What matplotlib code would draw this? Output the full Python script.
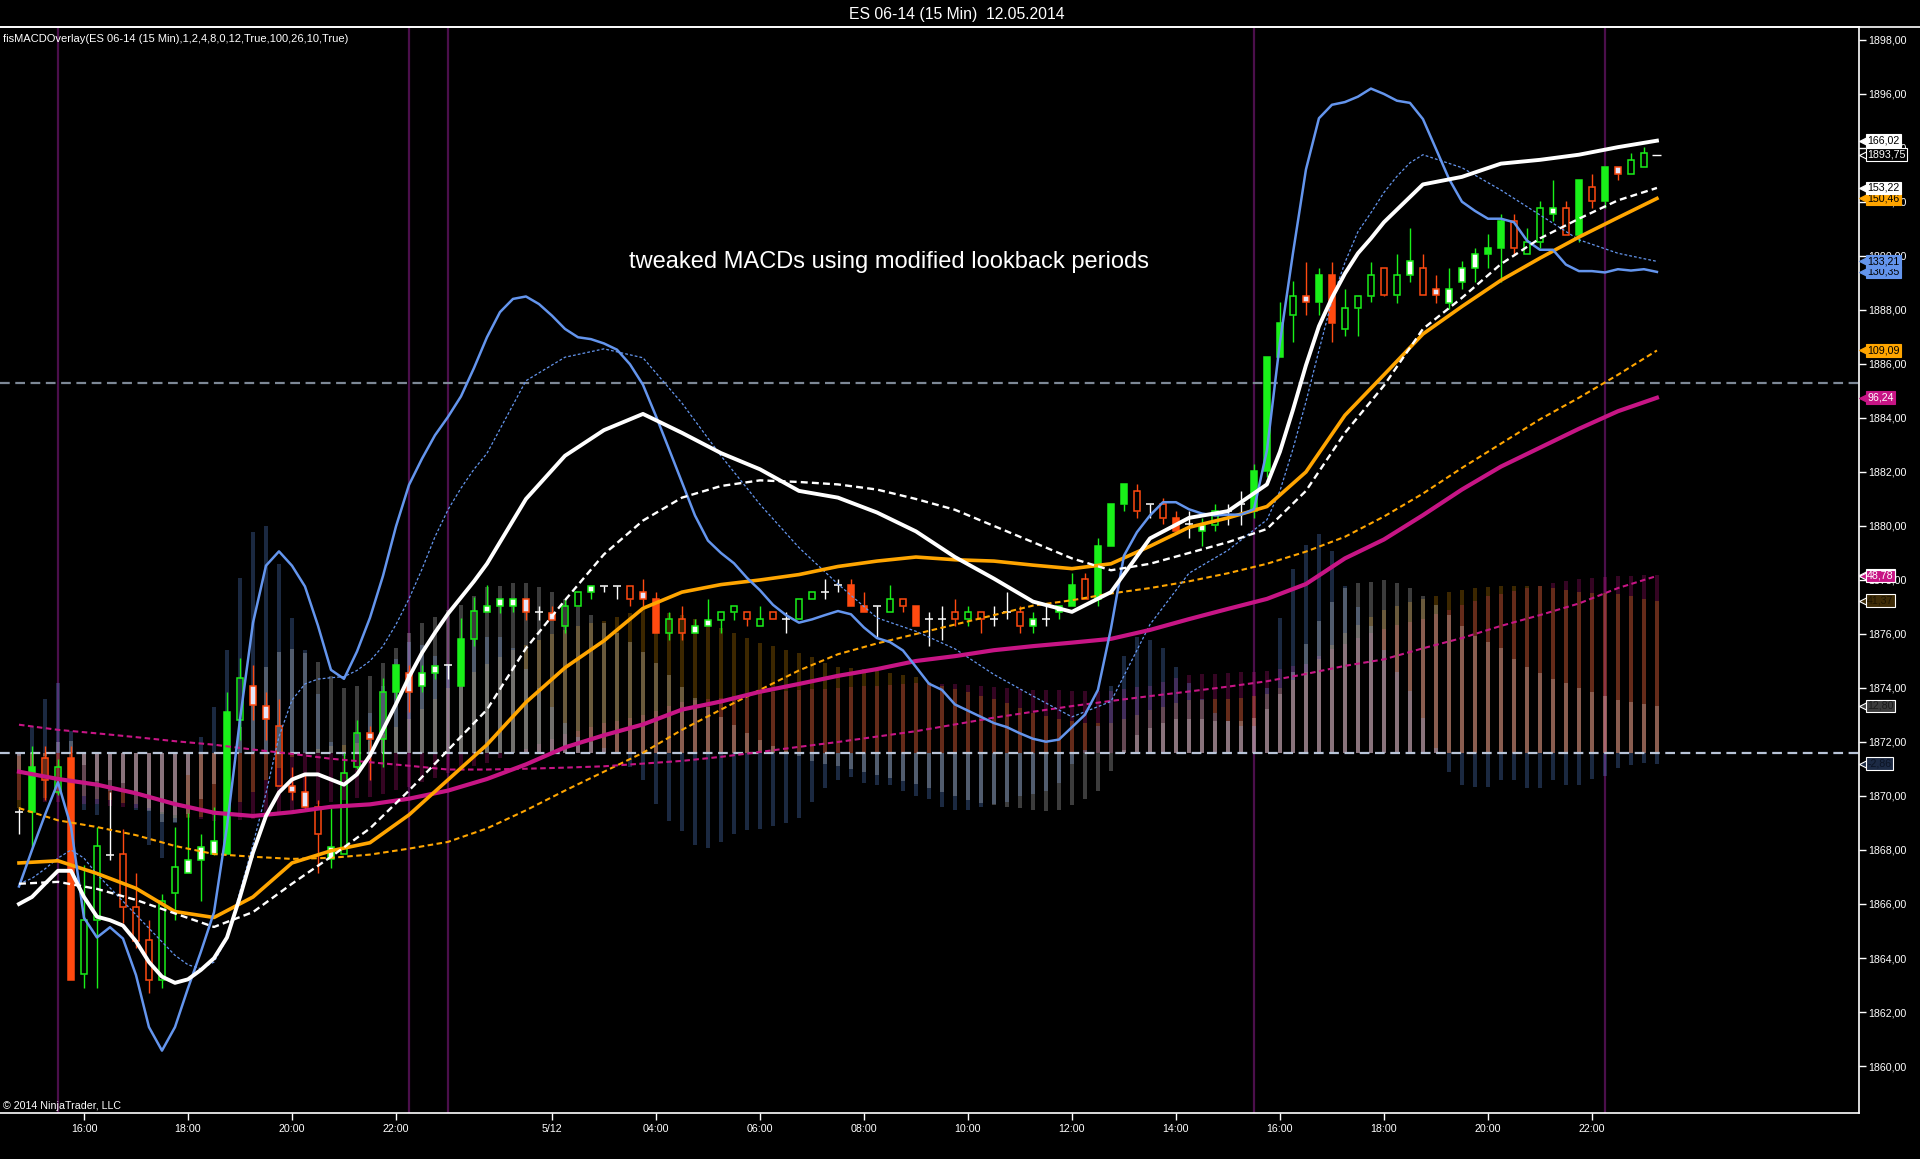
import matplotlib
matplotlib.use("Agg")
import matplotlib.pyplot as plt
import matplotlib.transforms as mtransforms
from matplotlib.lines import Line2D
from matplotlib.ticker import FuncFormatter
import numpy as np

plt.rcParams["font.family"] = ["Liberation Sans", "DejaVu Sans"]
plt.rcParams["lines.scale_dashes"] = False

# ==========================================================
# Data (bar index = one 15 min bar)
# ==========================================================

OPEN = [1869.4, 1869.39, 1871.39, 1870.13, 1871.39, 1863.41, 1865.40, 1867.81, 1867.85, 1865.88,
        1864.66, 1863.17, 1866.40, 1867.13, 1867.62, 1867.87, 1867.85, 1872.83, 1874.09, 1873.35,
        1872.60, 1870.36, 1870.13, 1869.59, 1867.66, 1867.85, 1871.09, 1872.35, 1872.10, 1873.84,
        1874.57, 1874.09, 1874.57, 1874.86, 1874.09, 1875.83, 1876.81, 1877.05, 1877.05, 1877.30,
        1876.81, 1876.77, 1876.28, 1877.05, 1877.55, 1877.77, 1877.77, 1877.77, 1877.55, 1877.31,
        1876.05, 1876.54, 1876.05, 1876.28, 1876.51, 1876.81, 1876.81, 1876.28, 1876.81, 1876.54,
        1876.54, 1877.31, 1877.55, 1877.80, 1877.80, 1877.05, 1877.05, 1876.81, 1877.31, 1877.05,
        1876.54, 1876.54, 1876.81, 1876.54, 1876.81, 1876.54, 1876.81, 1876.81, 1876.31, 1876.54,
        1876.81, 1877.05, 1878.05, 1877.31, 1879.27, 1880.80, 1881.31, 1880.80, 1880.80, 1880.31,
        1880.08, 1879.80, 1880.05, 1880.54, 1880.80, 1880.54, 1882.05, 1886.27, 1887.81, 1888.53,
        1888.30, 1889.30, 1887.30, 1888.07, 1888.53, 1889.55, 1888.56, 1889.29, 1889.55, 1888.78,
        1888.27, 1889.04, 1889.55, 1890.06, 1890.28, 1891.30, 1890.06, 1890.53, 1891.55, 1891.79,
        1890.79, 1892.55, 1892.04, 1893.29, 1893.03, 1893.29]
HIGH = [1869.6, 1871.87, 1871.87, 1871.38, 1871.87, 1867.43, 1868.87, 1870.13, 1868.78, 1867.13,
        1865.40, 1866.36, 1868.87, 1869.36, 1868.58, 1869.59, 1873.84, 1875.11, 1874.86, 1873.84,
        1873.61, 1871.09, 1870.80, 1869.84, 1869.55, 1871.58, 1872.83, 1872.60, 1874.38, 1874.86,
        1874.86, 1874.86, 1874.82, 1874.86, 1876.60, 1877.37, 1877.80, 1877.30, 1877.30, 1877.30,
        1877.05, 1877.05, 1877.31, 1877.55, 1877.77, 1877.77, 1877.77, 1877.77, 1878.05, 1877.55,
        1876.81, 1877.05, 1876.54, 1877.31, 1876.81, 1877.05, 1876.81, 1877.05, 1876.81, 1876.81,
        1877.31, 1877.55, 1878.05, 1878.05, 1878.05, 1877.55, 1877.05, 1877.80, 1877.31, 1877.05,
        1876.81, 1877.05, 1877.31, 1877.05, 1876.81, 1877.05, 1877.55, 1877.05, 1876.81, 1877.05,
        1877.05, 1878.27, 1878.27, 1879.54, 1880.80, 1881.54, 1881.54, 1880.80, 1881.05, 1880.54,
        1880.54, 1880.31, 1880.80, 1880.80, 1881.31, 1882.28, 1886.27, 1888.30, 1889.07, 1889.79,
        1889.56, 1889.79, 1888.79, 1888.53, 1889.79, 1889.55, 1890.06, 1891.04, 1890.06, 1889.29,
        1889.55, 1889.80, 1890.31, 1890.82, 1891.55, 1891.55, 1891.04, 1892.04, 1892.81, 1892.04,
        1892.81, 1893.03, 1893.29, 1893.29, 1893.80, 1894.02]
LOW = [1868.6, 1868.10, 1869.84, 1870.03, 1863.17, 1862.88, 1862.88, 1867.62, 1865.30, 1864.37,
       1862.69, 1862.88, 1865.40, 1867.13, 1866.11, 1867.81, 1867.85, 1872.06, 1872.83, 1872.06,
       1870.36, 1869.84, 1869.45, 1867.13, 1867.33, 1867.85, 1871.00, 1870.61, 1871.09, 1873.40,
       1873.12, 1873.84, 1874.34, 1874.34, 1874.09, 1875.54, 1876.80, 1876.78, 1876.81, 1876.51,
       1876.51, 1876.53, 1876.05, 1877.05, 1877.31, 1877.55, 1877.31, 1877.05, 1877.05, 1876.05,
       1875.78, 1875.78, 1876.05, 1876.28, 1876.05, 1876.51, 1876.28, 1876.28, 1876.54, 1876.05,
       1876.54, 1877.31, 1877.31, 1877.55, 1877.05, 1876.81, 1875.85, 1876.81, 1876.81, 1876.31,
       1875.55, 1875.78, 1876.31, 1876.31, 1876.05, 1876.31, 1876.54, 1876.05, 1876.05, 1876.31,
       1876.54, 1877.05, 1877.31, 1877.05, 1879.27, 1880.54, 1880.31, 1880.31, 1880.08, 1879.80,
       1879.54, 1879.27, 1879.80, 1880.05, 1880.05, 1880.31, 1881.80, 1886.27, 1886.81, 1887.81,
       1887.81, 1886.81, 1887.03, 1887.03, 1888.30, 1888.53, 1888.27, 1889.04, 1888.56, 1888.27,
       1888.02, 1888.78, 1889.04, 1889.55, 1889.04, 1890.06, 1890.06, 1890.28, 1891.30, 1890.79,
       1890.53, 1891.79, 1891.79, 1892.81, 1893.03, 1893.29]
CLOSE = [1869.4, 1871.09, 1870.61, 1871.09, 1863.17, 1865.40, 1868.14, 1867.81, 1865.88, 1864.62,
         1863.17, 1866.11, 1867.37, 1867.62, 1868.10, 1868.35, 1873.12, 1874.38, 1873.37, 1872.87,
         1870.36, 1870.13, 1869.59, 1868.60, 1868.10, 1870.84, 1872.35, 1872.10, 1873.84, 1874.86,
         1873.84, 1874.57, 1874.82, 1874.86, 1875.83, 1876.85, 1877.05, 1877.30, 1877.30, 1876.81,
         1876.81, 1876.53, 1877.05, 1877.55, 1877.77, 1877.77, 1877.77, 1877.31, 1877.31, 1876.05,
         1876.54, 1876.05, 1876.28, 1876.51, 1876.81, 1877.05, 1876.54, 1876.54, 1876.54, 1876.54,
         1877.31, 1877.55, 1877.55, 1877.80, 1877.05, 1876.81, 1877.05, 1877.31, 1877.05, 1876.31,
         1876.54, 1876.54, 1876.54, 1876.81, 1876.54, 1876.54, 1876.81, 1876.31, 1876.54, 1876.54,
         1877.05, 1877.80, 1877.31, 1879.27, 1880.80, 1881.54, 1880.54, 1880.80, 1880.31, 1879.80,
         1880.08, 1880.05, 1880.54, 1880.54, 1880.80, 1882.05, 1886.27, 1887.53, 1888.53, 1888.30,
         1889.30, 1887.53, 1888.07, 1888.53, 1889.30, 1888.56, 1889.29, 1889.80, 1888.56, 1888.56,
         1888.78, 1889.55, 1890.06, 1890.28, 1891.30, 1890.28, 1890.53, 1891.79, 1891.79, 1890.79,
         1892.81, 1892.04, 1893.29, 1893.03, 1893.54, 1893.80]
# body style per bar: S solid, H hollow, W white filled, D doji
CANDLE_STYLE = ("DSHHSHHDHH" "HHHWWWSHWW" "HWWHWHHWHS" "WWWDSHWWWW" "DWHHWDDHWS"
                "HHWWHHHHHD" "HHDDSSDHHS" "DDHHHDDHWD" "WSHSSSHDHS" "DWHDDSSSHW"
                "SSHHHHHWHW" "WWWSSHHHWH" "SHSWHH")
LAST_PRICE = 1893.75

# MACD overlay lines (bar index lists + values read at those bars)
STEP3_IDX = list(range(0, 127, 3))

WHITE_MACD_IDX = list(range(0, 37)) + list(range(39, 96, 3)) + list(range(96, 106)) + list(range(108, 127, 3))
WHITE_MACD = [1866.0, 1866.26, 1866.75, 1867.23, 1867.23, 1866.26, 1865.53, 1865.40, 1865.2, 1864.62,
              1863.85, 1863.31, 1863.08, 1863.21, 1863.56, 1863.99, 1864.76, 1866.26, 1867.91, 1869.26,
              1870.13, 1870.61, 1870.80, 1870.80, 1870.61, 1870.42, 1870.80, 1871.5, 1872.45, 1873.4,
              1874.4, 1875.3, 1876.05, 1876.75, 1877.35, 1877.95, 1878.6,
              1881.0, 1882.6, 1883.55, 1884.15, 1883.45, 1882.7, 1882.1, 1881.3, 1881.05, 1880.5,
              1879.8, 1878.85, 1878.05, 1877.2, 1876.82, 1877.55, 1879.54, 1880.3, 1880.55,
              1881.54, 1882.75, 1884.3, 1885.95, 1887.4, 1888.45, 1889.35, 1890.1, 1890.65, 1891.25,
              1892.65, 1892.93, 1893.42, 1893.56, 1893.75, 1894.03, 1894.27]
WHITE_SIGNAL = [1866.75, 1866.82, 1866.56, 1866.15, 1865.65, 1865.15, 1865.7, 1866.75, 1867.75, 1868.8,
                1870.2, 1871.7, 1873.2, 1875.47, 1877.25, 1878.95, 1880.2, 1881.05, 1881.48, 1881.69,
                1881.63, 1881.54, 1881.35, 1881.0, 1880.6, 1880.0, 1879.4, 1878.8, 1878.36, 1878.6,
                1879.0, 1879.4, 1879.89, 1881.3, 1883.45, 1885.2, 1887.3, 1888.45, 1889.7, 1890.65,
                1891.38, 1892.06, 1892.52]
ORANGE_MACD = [1867.52, 1867.6, 1867.13, 1866.58, 1865.72, 1865.5, 1866.26, 1867.52, 1867.97, 1868.27,
               1869.3, 1870.6, 1871.9, 1873.47, 1874.75, 1875.75, 1876.95, 1877.55, 1877.83, 1878.0,
               1878.2, 1878.5, 1878.7, 1878.85, 1878.75, 1878.7, 1878.55, 1878.42, 1878.6, 1879.25,
               1879.95, 1880.3, 1880.72, 1882.0, 1884.1, 1885.6, 1887.11, 1888.13, 1889.1, 1889.92,
               1890.7, 1891.42, 1892.13]
ORANGE_SIGNAL = [1869.55, 1869.1, 1868.85, 1868.55, 1868.15, 1867.85, 1867.75, 1867.67, 1867.71, 1867.83,
                 1868.05, 1868.3, 1868.8, 1869.47, 1870.2, 1870.9, 1871.6, 1872.45, 1873.2, 1873.93,
                 1874.65, 1875.25, 1875.65, 1876.0, 1876.35, 1876.7, 1877.05, 1877.25, 1877.5, 1877.7,
                 1877.95, 1878.25, 1878.6, 1879.05, 1879.6, 1880.35, 1881.2, 1882.15, 1883.05, 1883.95,
                 1884.75, 1885.6, 1886.5]
MAGENTA_MACD = [1870.90, 1870.63, 1870.42, 1870.1, 1869.7, 1869.38, 1869.26, 1869.40, 1869.6, 1869.69,
                1869.9, 1870.2, 1870.63, 1871.17, 1871.8, 1872.25, 1872.65, 1873.2, 1873.5, 1873.86,
                1874.15, 1874.45, 1874.7, 1875.0, 1875.18, 1875.4, 1875.55, 1875.68, 1875.82, 1876.15,
                1876.55, 1876.93, 1877.3, 1877.85, 1878.8, 1879.5, 1880.4, 1881.35, 1882.2, 1882.9,
                1883.6, 1884.25, 1884.75]
MAGENTA_SIGNAL = [1872.64, 1872.45, 1872.32, 1872.18, 1872.03, 1871.9, 1871.72, 1871.56, 1871.38, 1871.25,
                  1871.12, 1870.98, 1870.98, 1871.01, 1871.05, 1871.1, 1871.2, 1871.3, 1871.45, 1871.63,
                  1871.82, 1872.0, 1872.2, 1872.4, 1872.65, 1872.9, 1873.12, 1873.33, 1873.52, 1873.7,
                  1873.87, 1874.05, 1874.25, 1874.52, 1874.82, 1875.06, 1875.47, 1875.85, 1876.3, 1876.7,
                  1877.13, 1877.7, 1878.15]
BLUE_SIGNAL_IDX = list(range(0, 36)) + list(range(36, 96, 3)) + list(range(96, 109)) + list(range(111, 127, 3))
BLUE_SIGNAL = [1866.75, 1866.95, 1867.3, 1867.7, 1868.0, 1867.7, 1867.1, 1866.6, 1866.1, 1865.6,
               1865.1, 1864.6, 1864.1, 1863.75, 1863.6, 1863.85, 1864.72, 1866.46, 1868.2, 1870.1,
               1872.2, 1873.55, 1874.15, 1874.33, 1874.38, 1874.42, 1874.65, 1875.0, 1875.55, 1876.35,
               1877.3, 1878.4, 1879.6, 1880.6, 1881.4, 1882.1,
               1882.69, 1885.38, 1886.25, 1886.56, 1886.23, 1884.55, 1882.6, 1880.8, 1879.2, 1877.85,
               1876.6, 1876.1, 1875.45, 1874.5, 1873.7, 1872.93, 1873.5, 1876.35, 1878.25, 1879.1,
               1880.23, 1881.3, 1882.85, 1884.6, 1886.5, 1888.35, 1889.76, 1890.9, 1891.6, 1892.35,
               1892.95, 1893.45, 1893.75,
               1893.27, 1892.44, 1891.52, 1890.6, 1890.1, 1889.8]
# fast blue MACD, every bar
BLUE_MACD = [1866.65, 1868.0, 1869.3, 1870.51, 1868.87, 1865.49, 1864.76, 1865.14, 1864.72, 1863.37,
             1861.44, 1860.57, 1861.44, 1862.88, 1864.24, 1865.69, 1868.87, 1872.83, 1876.41, 1878.53,
             1879.06, 1878.53, 1877.76, 1876.31, 1874.67, 1874.34, 1875.35, 1876.60, 1878.15, 1879.98,
             1881.52, 1882.49, 1883.36, 1884.04, 1884.8, 1885.85, 1886.99, 1887.92, 1888.41, 1888.50,
             1888.22, 1887.79, 1887.30, 1886.99, 1886.92, 1886.76, 1886.53, 1885.99, 1885.23, 1884.07,
             1882.85, 1881.62, 1880.39, 1879.46, 1879.0, 1878.62, 1878.08, 1877.62, 1877.08, 1876.70,
             1876.42, 1876.54, 1876.70, 1876.85, 1876.73, 1876.24, 1875.85, 1875.70, 1875.39, 1874.78,
             1874.16, 1873.93, 1873.39, 1873.16, 1872.93, 1872.70, 1872.55, 1872.32, 1872.12, 1872.01,
             1872.09, 1872.55, 1873.01, 1873.93, 1876.2, 1878.9, 1879.77, 1880.39, 1880.88, 1880.88,
             1880.62, 1880.46, 1880.39, 1880.42, 1880.42, 1880.62, 1882.8, 1886.8, 1890.1, 1893.2,
             1895.1, 1895.6, 1895.7, 1895.9, 1896.2, 1896.0, 1895.75, 1895.67, 1895.07, 1893.97,
             1892.86, 1892.01, 1891.67, 1891.38, 1891.38, 1891.25, 1890.57, 1890.23, 1890.23, 1889.68,
             1889.44, 1889.44, 1889.39, 1889.51, 1889.46, 1889.51, 1889.41]

# histograms, height above/below the zero line (price units), every bar
HIST_WHITE = [-0.75, -0.56, -0.1, 0.41, 0.45, -0.44, -1.03, -1.0, -1.1, -1.53,
              -2.15, -2.54, -2.57, -2.24, -1.69, -1.16, -0.34, 0.96, 2.21, 3.19,
              3.73, 3.86, 3.7, 3.38, 2.86, 2.4, 2.5, 2.85, 3.34, 3.9,
              4.45, 4.8, 5.05, 5.3, 5.5, 5.8, 6.15, 6.2, 6.3, 6.3,
              6.15, 5.95, 5.7, 5.4, 5.1, 4.8, 4.45, 4.1, 3.75, 3.35,
              2.9, 2.45, 2.05, 1.7, 1.35, 1.05, 0.75, 0.5, 0.28, 0.08,
              -0.12, -0.28, -0.4, -0.48, -0.58, -0.7, -0.82, -0.92, -1.02, -1.15,
              -1.3, -1.45, -1.6, -1.72, -1.85, -1.92, -1.98, -2.05, -2.12, -2.15,
              -2.12, -1.93, -1.7, -1.4, -0.65, 0.1, 0.68, 0.94, 1.13, 1.25,
              1.28, 1.25, 1.18, 1.17, 1.2, 1.3, 1.65, 2.2, 3.0, 4.05,
              4.9, 5.6, 6.1, 6.3, 6.35, 6.4, 6.3, 6.1, 5.8, 5.5,
              5.1, 4.7, 4.35, 4.1, 3.9, 3.5, 3.2, 2.96, 2.76, 2.6,
              2.4, 2.25, 2.13, 1.98, 1.89, 1.82, 1.75]
HIST_BLUE = [-0.1, 1.0, 2.0, 2.6, 0.8, -2.1, -2.3, -1.4, -1.3, -2.1,
             -3.4, -3.9, -2.6, -0.8, 0.6, 1.7, 3.8, 6.5, 8.2, 8.4,
             7.0, 5.0, 3.8, 2.2, 0.4, -0.1, 0.7, 1.5, 2.5, 3.5,
             4.1, 4.0, 3.6, 3.3, 3.9, 4.2, 4.3, 4.3, 3.9, 3.1,
             2.4, 1.7, 1.1, 0.6, 0.4, 0.2, 0.0, -0.5, -1.0, -1.9,
             -2.5, -2.9, -3.4, -3.5, -3.3, -3.0, -2.85, -2.8, -2.7, -2.6,
             -2.4, -1.8, -1.3, -1.0, -0.9, -1.1, -1.2, -1.2, -1.4, -1.6,
             -1.7, -2.0, -2.1, -2.1, -2.0, -1.9, -1.8, -1.6, -1.5, -1.4,
             -1.1, -0.4, 0.1, 1.0, 2.5, 3.6, 4.3, 4.2, 3.9, 3.2,
             2.6, 2.0, 1.5, 1.2, 1.0, 1.0, 2.4, 5.0, 6.8, 7.7,
             8.1, 7.5, 6.2, 5.4, 4.7, 3.8, 3.0, 2.3, 1.3, 0.2,
             -0.7, -1.2, -1.25, -1.25, -1.0, -1.0, -1.3, -1.3, -1.0, -1.2,
             -1.2, -0.95, -0.85, -0.55, -0.45, -0.35, -0.39]
HIST_ORANGE = [-2.03, -1.85, -1.65, -1.5, -1.5, -1.6, -1.7, -1.75, -1.85, -1.9,
               -2.05, -2.25, -2.4, -2.4, -2.35, -2.3, -2.1, -1.8, -1.45, -1.0,
               -0.55, -0.15, 0.0, 0.15, 0.26, 0.3, 0.38, 0.45, 0.7, 0.95,
               1.25, 1.65, 2.0, 2.4, 2.7, 3.0, 3.3, 3.55, 3.8, 4.0,
               4.2, 4.4, 4.55, 4.7, 4.8, 4.9, 5.05, 5.2, 5.35, 5.3,
               5.2, 5.1, 4.95, 4.8, 4.65, 4.45, 4.25, 4.07, 3.95, 3.82,
               3.7, 3.55, 3.35, 3.2, 3.15, 3.1, 3.05, 2.95, 2.88, 2.8,
               2.65, 2.5, 2.37, 2.25, 2.12, 2.0, 1.85, 1.68, 1.5, 1.38,
               1.27, 1.17, 1.12, 1.1, 1.1, 1.25, 1.42, 1.6, 1.72, 1.85,
               1.95, 1.97, 2.0, 2.0, 2.05, 2.1, 2.17, 2.4, 2.7, 3.0,
               3.5, 4.0, 4.45, 4.75, 5.05, 5.3, 5.45, 5.6, 5.7, 5.82,
               5.95, 6.05, 6.1, 6.15, 6.2, 6.2, 6.2, 6.2, 6.12, 6.03,
               5.95, 5.93, 5.92, 5.9, 5.8, 5.72, 5.65]
HIST_MAGENTA = [-1.74, -1.77, -1.8, -1.82, -1.85, -1.87, -1.9, -1.95, -2.0, -2.05,
                -2.12, -2.2, -2.3, -2.37, -2.44, -2.5, -2.5, -2.48, -2.45, -2.35,
                -2.22, -2.1, -2.0, -1.9, -1.8, -1.73, -1.68, -1.63, -1.5, -1.38,
                -1.25, -1.08, -0.92, -0.75, -0.6, -0.48, -0.35, -0.18, 0.0, 0.16,
                0.35, 0.52, 0.7, 0.83, 0.97, 1.1, 1.2, 1.3, 1.4, 1.57,
                1.73, 1.9, 1.95, 2.0, 2.05, 2.12, 2.2, 2.26, 2.28, 2.3,
                2.33, 2.36, 2.39, 2.42, 2.45, 2.47, 2.5, 2.53, 2.57, 2.6,
                2.58, 2.57, 2.55, 2.52, 2.48, 2.45, 2.42, 2.38, 2.35, 2.33,
                2.32, 2.3, 2.3, 2.3, 2.3, 2.37, 2.43, 2.5, 2.63, 2.77,
                2.9, 2.92, 2.93, 2.95, 3.0, 3.02, 3.05, 3.13, 3.22, 3.3,
                3.6, 3.85, 4.05, 4.25, 4.45, 4.6, 4.75, 4.85, 4.95, 5.15,
                5.3, 5.5, 5.65, 5.8, 5.9, 6.0, 6.1, 6.2, 6.3, 6.38,
                6.45, 6.5, 6.52, 6.55, 6.57, 6.6, 6.6]

ZERO_LEVEL = 1871.59
LEVEL_100 = 1885.30
SESSION_BREAKS = [3, 30, 33, 95, 122]

TICK_POS = [5, 13, 21, 29, 41, 49, 57, 65, 73, 81, 89, 97, 105, 113, 121]
TICK_LABELS = ["16:00", "18:00", "20:00", "22:00", "5/12", "04:00", "06:00", "08:00",
               "10:00", "12:00", "14:00", "16:00", "18:00", "20:00", "22:00"]

GREEN = "#19f019"
RED = "#ff4a10"
CORNFLOWER = "#6495ed"
ORANGE = "#ffa500"
MAGENTA = "#c71585"

# ==========================================================
# Figure
# ==========================================================

fig = plt.figure(figsize=(19.2, 11.59), dpi=100, facecolor="black")
ax = fig.add_axes([0.0, 0.0397, 0.9682, 0.9370], facecolor="black")
ax.set_xlim(-1.46, 141.54)
ax.set_ylim(1858.26, 1898.48)

for pos in SESSION_BREAKS:
    ax.axvline(pos, color="#4b0f4b", lw=1.6, zorder=0.5)

# histograms
hist_x = np.arange(len(HIST_WHITE))
for vals, color, alpha in [(HIST_MAGENTA, MAGENTA, 0.27),
                           (HIST_ORANGE, ORANGE, 0.24),
                           (HIST_BLUE, CORNFLOWER, 0.28),
                           (HIST_WHITE, "#ffffff", 0.24)]:
    ax.bar(hist_x, vals, bottom=ZERO_LEVEL, width=0.35, color=color,
           alpha=alpha, linewidth=0, zorder=1)

ax.axhline(LEVEL_100, color="#7d8896", lw=1.6, dashes=(7, 4), zorder=2.5)
ax.axhline(ZERO_LEVEL, color="#b8c4d8", lw=1.6, dashes=(7, 4), zorder=2.5)

# candles
o, h, l, c = (np.array(v) for v in (OPEN, HIGH, LOW, CLOSE))
x = np.arange(len(o))
style = np.array(list(CANDLE_STYLE))
up = c > o
edge = np.where(up, GREEN, np.where(c < o, RED, "#ffffff"))
top = np.maximum(o, c)
bot = np.minimum(o, c)

ax.vlines(x, top, h, colors=edge, lw=1.0, zorder=3)
ax.vlines(x, l, bot, colors=edge, lw=1.0, zorder=3)

face = []
for st, e, u in zip(style, edge, up):
    if st == "S":
        face.append(e)
    elif st == "W":
        face.append("#ffffff" if u else "#e6e6fa")
    else:
        face.append("none")
face = np.array(face, dtype=object)

body = style != "D"
ax.bar(x[body], (top - bot)[body], bottom=bot[body], width=0.5,
       color=list(face[body]), edgecolor=list(edge[body]), linewidth=1.1, zorder=3)
doji = ~body
ax.hlines(o[doji], x[doji] - 0.28, x[doji] + 0.28, colors="#ffffff", lw=1.1, zorder=3)
ax.hlines(LAST_PRICE, len(o) - 0.4, len(o) + 0.3, colors="#ffffff", lw=1.0, zorder=3)

# overlay lines
ax.plot(STEP3_IDX, ORANGE_SIGNAL, color=ORANGE, lw=1.5, dashes=(4, 2.5), zorder=4)
ax.plot(STEP3_IDX, MAGENTA_SIGNAL, color=MAGENTA, lw=1.5, dashes=(4, 2.5), zorder=4)
ax.plot(BLUE_SIGNAL_IDX, BLUE_SIGNAL, color=CORNFLOWER, lw=0.9, dashes=(2, 1.5), zorder=4)
ax.plot(STEP3_IDX, MAGENTA_MACD, color=MAGENTA, lw=3.0, zorder=4, solid_joinstyle="round")
ax.plot(STEP3_IDX, ORANGE_MACD, color=ORANGE, lw=2.6, zorder=4, solid_joinstyle="round")
ax.plot(np.arange(len(BLUE_MACD)), BLUE_MACD, color=CORNFLOWER, lw=1.8, zorder=4,
        solid_joinstyle="round")
ax.plot(STEP3_IDX, WHITE_SIGNAL, color="#ffffff", lw=1.7, dashes=(5, 3), zorder=4)
ax.plot(WHITE_MACD_IDX, WHITE_MACD, color="#ffffff", lw=2.8, zorder=4, solid_joinstyle="round")

# ==========================================================
# Axes styling
# ==========================================================

for side in ("top", "right", "bottom"):
    ax.spines[side].set_color("#ffffff")
    ax.spines[side].set_linewidth(1.2)
ax.spines["left"].set_visible(False)
# title bar separator runs across the whole window
fig.add_artist(Line2D([0, 1], [0.9767, 0.9767], transform=fig.transFigure,
                      color="#ffffff", lw=1.2))

ax.set_yticks(np.arange(1860, 1899, 2))
ax.yaxis.set_major_formatter(FuncFormatter(lambda v, _: f"{v:.2f}".replace(".", ",")))
ax.tick_params(axis="y", which="both", left=False, labelleft=False, right=True,
               labelright=True, direction="out", length=5, width=1, color="#ffffff",
               labelcolor="#ffffff", labelsize=7.7, pad=2)
ax.set_xticks(TICK_POS)
ax.set_xticklabels(TICK_LABELS)
ax.tick_params(axis="x", direction="out", length=5, width=1, color="#ffffff",
               labelcolor="#ffffff", labelsize=7.7, pad=3)

# value tags on the right price scale
tag_shift = mtransforms.ScaledTranslation(4 / 72, 0, fig.dpi_scale_trans)
ytrans = ax.get_yaxis_transform()


def add_tag(y, text, fc, tc, ec=None):
    ec = ec or fc
    ax.plot([1.0], [y], marker="<", markersize=7.5, color=fc, markeredgecolor=ec,
            markeredgewidth=0.8, transform=ytrans + tag_shift, clip_on=False, zorder=20)
    ax.annotate(text, xy=(1.0, y), xycoords=ytrans, xytext=(6, 0),
                textcoords="offset points", ha="left", va="center", fontsize=7.7,
                color=tc, zorder=21, annotation_clip=False,
                bbox=dict(boxstyle="square,pad=0.12", fc=fc, ec=ec, lw=0.8))


add_tag(ZERO_LEVEL + HIST_BLUE[-1], "-2,86", "#1c2a44", "#0c1424", "#ffffff")
add_tag(ZERO_LEVEL + HIST_WHITE[-1], "12,80", "#3c3c3c", "#1c1c1c", "#ffffff")
add_tag(ZERO_LEVEL + HIST_ORANGE[-1], "41,37", "#3d2a05", "#1c1300", "#ffffff")
add_tag(ZERO_LEVEL + HIST_MAGENTA[-1], "47,49", "#8a1060", "#ffffff", "#ffffff")
add_tag(MAGENTA_SIGNAL[-1], "48,78", MAGENTA, "#ffffff", "#ffffff")
add_tag(MAGENTA_MACD[-1], "96,24", MAGENTA, "#ffffff")
add_tag(ORANGE_SIGNAL[-1], "109,09", ORANGE, "#000000")
add_tag(BLUE_MACD[-1], "130,35", CORNFLOWER, "#000000")
add_tag(BLUE_SIGNAL[-1], "133,21", CORNFLOWER, "#000000")
add_tag(ORANGE_MACD[-1], "150,46", ORANGE, "#000000")
add_tag(WHITE_SIGNAL[-1], "153,22", "#ffffff", "#000000")
add_tag(LAST_PRICE, "1893,75", "#000000", "#ffffff", "#ffffff")
add_tag(WHITE_MACD[-1], "166,02", "#ffffff", "#000000")

# texts
fig.text(0.4984, 0.9879, "ES 06-14 (15 Min)  12.05.2014", color="#ffffff",
         fontsize=11.3, ha="center", va="center")
fig.text(0.0016, 0.9663, "fisMACDOverlay(ES 06-14 (15 Min),1,2,4,8,0,12,True,100,26,10,True)",
         color="#ffffff", fontsize=8, ha="left", va="center")
fig.text(0.0016, 0.0457, "\u00a9 2014 NinjaTrader, LLC", color="#ffffff",
         fontsize=7.7, ha="left", va="center")
fig.text(0.463, 0.774, "tweaked MACDs using modified lookback periods", color="#ffffff",
         fontsize=17, ha="center", va="center")

fig.savefig("out.png", dpi=100, facecolor="black")
